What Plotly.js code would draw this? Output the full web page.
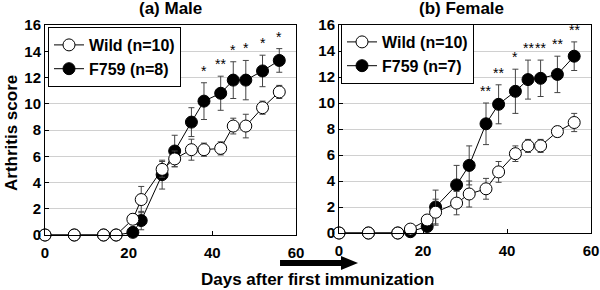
<!DOCTYPE html>
<html>
<head>
<meta charset="utf-8">
<script src="https://cdn.plot.ly/plotly-3.0.1.min.js"></script>
<style>html,body{margin:0;padding:0;background:#fff;}#chart{width:600px;height:290px;}</style>
</head>
<body>
<div id="chart"></div>
<script>
// ---- data ----
const days = [0, 7, 14, 17, 21, 23, 28, 31, 35, 38, 42, 45, 48, 52, 56];

const maleWild = [0, 0, 0, 0, 1.2, 2.7, 5.0, 5.8, 6.5, 6.5, 6.6, 8.3, 8.3, 9.7, 10.9];
const maleWildErr = [0, 0, 0, 0, 0.4, 1.0, 0.6, 0.6, 0.8, 0.5, 0.5, 0.6, 0.9, 0.5, 0.5];
const maleF759 = [0, 0, 0, 0, 0.2, 1.1, 4.6, 6.4, 8.6, 10.2, 10.8, 11.8, 11.8, 12.5, 13.3];
const maleF759Err = [0, 0, 0, 0, 0.3, 0.7, 1.1, 1.2, 1.1, 1.4, 1.3, 1.4, 1.5, 1.2, 0.9];
const maleStars = ['', '', '', '', '', '', '', '', '', '*', '**', '*', '*', '*', '*'];

const femaleWild = [0, 0, 0, 0.3, 1.0, 1.6, 2.3, 3.0, 3.4, 4.7, 6.1, 6.7, 6.7, 7.8, 8.5];
const femaleWildErr = [0, 0, 0, 0, 0.3, 1.0, 0.9, 1.0, 0.8, 0.8, 0.6, 0.5, 0.5, 0.4, 0.7];
const femaleF759 = [0, 0, 0, 0.1, 0.5, 2.0, 3.7, 5.2, 8.4, 9.9, 10.9, 11.8, 11.9, 12.2, 13.6];
const femaleF759Err = [0, 0, 0, 0, 0.3, 1.3, 1.5, 1.5, 1.6, 1.5, 1.7, 1.5, 1.4, 1.4, 1.1];
const femaleStars = ['', '', '', '', '', '', '', '', '**', '**', '*', '**', '**', '**', '**'];

const legendWildMale = 'Wild (n=10)';
const legendF759Male = 'F759 (n=8)';
const legendWildFemale = 'Wild (n=10)';
const legendF759Female = 'F759 (n=7)';

const yTicks = [0, 2, 4, 6, 8, 10, 12, 14, 16];
const xTicks = [0, 20, 40, 60];

// ---- styling ----
const FONT = 'Liberation Sans, Arial, sans-serif';
const errColor = '#444';

function series(x, y, err, name, filled, xa, ya, leg, rank) {
  return {
    x: x, y: y, name: name, type: 'scatter', mode: 'lines+markers',
    xaxis: xa, yaxis: ya, legend: leg, legendrank: rank,
    line: {color: '#000', width: 1},
    marker: {symbol: 'circle', size: 12, color: filled ? '#000' : '#fff', line: {color: '#000', width: 1}},
    error_y: {type: 'data', array: err, visible: true, color: errColor, thickness: 1, width: 3},
    cliponaxis: false
  };
}

const traces = [
  series(days, maleF759, maleF759Err, legendF759Male, true, 'x', 'y', 'legend', 2),
  series(days, maleWild, maleWildErr, legendWildMale, false, 'x', 'y', 'legend', 1),
  series(days, femaleF759, femaleF759Err, legendF759Female, true, 'x2', 'y2', 'legend2', 2),
  series(days, femaleWild, femaleWildErr, legendWildFemale, false, 'x2', 'y2', 'legend2', 1)
];

const annotations = [];
function addStars(stars, vals, errs, xr, yr) {
  stars.forEach((s, i) => {
    if (!s) return;
    annotations.push({
      x: days[i], y: vals[i] + errs[i], xref: xr, yref: yr, text: s,
      showarrow: false, xanchor: 'center', yanchor: 'bottom', yshift: 2,
      font: {family: FONT, size: 14, color: '#000'}
    });
  });
}
addStars(maleStars, maleF759, maleF759Err, 'x', 'y');
addStars(femaleStars, femaleF759, femaleF759Err, 'x2', 'y2');

function paperText(text, x, y, size, angle) {
  annotations.push({text: text, x: x / 600, y: 1 - y / 290, xref: 'paper', yref: 'paper',
    xanchor: 'center', yanchor: 'middle', showarrow: false, textangle: angle || 0,
    font: {family: FONT, size: size, color: '#000', weight: 'bold'}});
}
paperText('(a) Male', 171, 9, 17);
paperText('(b) Female', 461, 9, 17);
paperText('Arthritis score', 12, 133, 17, -90);
paperText('Days after first immunization', 317, 279, 17);

// arrow shape (paper coordinates from pixel positions)
function px(x) { return (x / 600).toFixed(4); }
function py(y) { return (1 - y / 290).toFixed(4); }
const arrowPath = 'M' + px(280) + ',' + py(260) + ' L' + px(341) + ',' + py(260) + ' L' + px(341) + ',' + py(256) +
  ' L' + px(358) + ',' + py(263) + ' L' + px(341) + ',' + py(270) + ' L' + px(341) + ',' + py(266) +
  ' L' + px(280) + ',' + py(266) + ' Z';

const tickFont = {family: FONT, size: 15, color: '#000', weight: 'bold'};
function xaxisDef(dom, anchor) {
  return {
    domain: dom, anchor: anchor, range: [0, 60], tickvals: xTicks, ticks: 'inside', ticklen: 4,
    tickcolor: '#000', showgrid: false, zeroline: false, showline: true, mirror: true,
    linecolor: '#000', linewidth: 1, tickfont: tickFont, ticklabelstandoff: 4
  };
}
function yaxisDef(dom, anchor) {
  return {
    domain: dom, anchor: anchor, range: [0, 16], tickvals: yTicks, ticks: 'inside', ticklen: 4,
    tickcolor: '#000', showgrid: true, gridcolor: '#d0d0d0', gridwidth: 1, zeroline: false,
    showline: true, mirror: true, linecolor: '#000', linewidth: 1, tickfont: tickFont
  };
}

const legendFont = {family: FONT, size: 16, color: '#000', weight: 'bold'};
const layout = {
  width: 600, height: 290,
  margin: {l: 0, r: 0, t: 0, b: 0},
  paper_bgcolor: '#fff', plot_bgcolor: '#fff',
  showlegend: true,
  xaxis: xaxisDef([45 / 600, 296 / 600], 'y'),
  yaxis: yaxisDef([1 - 235 / 290, 1 - 25 / 290], 'x'),
  xaxis2: xaxisDef([339 / 600, 591 / 600], 'y2'),
  yaxis2: yaxisDef([1 - 233 / 290, 1 - 25 / 290], 'x2'),
  legend: {x: 48 / 600, y: 1 - 27 / 290, xanchor: 'left', yanchor: 'top', bgcolor: '#fff',
    bordercolor: '#000', borderwidth: 1, font: legendFont, tracegroupgap: 0, itemwidth: 30},
  legend2: {x: 341 / 600, y: 1 - 24 / 290, xanchor: 'left', yanchor: 'top', bgcolor: '#fff',
    bordercolor: '#000', borderwidth: 1, font: legendFont, tracegroupgap: 0, itemwidth: 30},
  annotations: annotations,
  shapes: [{type: 'path', xref: 'paper', yref: 'paper', path: arrowPath, fillcolor: '#000', line: {width: 0}}]
};

Plotly.newPlot('chart', traces, layout, {staticPlot: true, displayModeBar: false});
</script>
</body>
</html>
